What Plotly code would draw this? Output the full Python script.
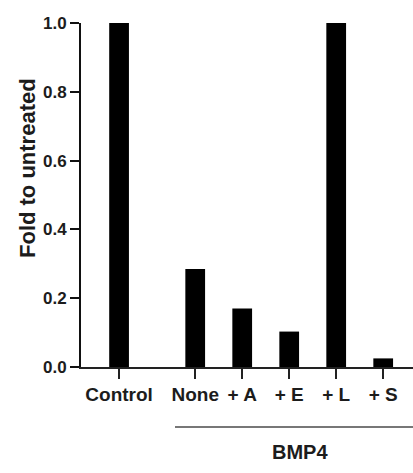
import plotly.graph_objects as go

# ---- data ----
categories = ["Control", "None", "+ A", "+ E", "+ L", "+ S"]
fold_values = [1.0, 0.285, 0.17, 0.103, 1.0, 0.025]
group_label = "BMP4"
y_title = "Fold to untreated"
y_ticks = [0.0, 0.2, 0.4, 0.6, 0.8, 1.0]

# positions: control alone, then the BMP4 group after a gap
gap = 0.62
xpos = [0.0] + [1.0 + gap + i for i in range(len(categories) - 1)]

FONT = "Liberation Sans, Arial, sans-serif"
TXT = "#1c1c1c"

fig = go.Figure(go.Bar(
    x=xpos, y=fold_values, width=0.42,
    marker=dict(color="black", line=dict(width=0)),
))

fig.update_layout(
    width=413, height=473,
    margin=dict(l=81, r=0, t=23, b=106),
    paper_bgcolor="white", plot_bgcolor="white",
    showlegend=False,
    font=dict(family=FONT, color=TXT),
    xaxis=dict(
        range=[-0.81, 6.254], showgrid=False, zeroline=False, automargin=False,
        showline=True, linecolor="#222", linewidth=2,
        ticks="outside", ticklen=10, tickwidth=2, tickcolor="#222",
        tickvals=xpos, ticktext=[f"<b>{c}</b>" for c in categories],
        tickfont=dict(size=19, family=FONT, color=TXT),
        ticklabelstandoff=-1,
    ),
    yaxis=dict(
        range=[0, 1.0], showgrid=False, zeroline=False, automargin=False,
        showline=True, linecolor="#111", linewidth=2,
        ticks="outside", ticklen=9, tickwidth=2, tickcolor="#111",
        tickvals=y_ticks, ticktext=[f"<b>{v:.1f}</b>" for v in y_ticks],
        tickfont=dict(size=17, family=FONT, color=TXT),
    ),
    shapes=[dict(
        type="line", xref="paper", yref="paper",
        x0=(175 - 81) / 332, x1=1.0, y0=-60 / 344, y1=-60 / 344,
        line=dict(color="#777", width=2),
    )],
    annotations=[
        dict(text=f"<b>{group_label}</b>", xref="paper", yref="paper",
             x=(300 - 81) / 332, y=-85 / 344, xanchor="center", yanchor="middle",
             showarrow=False, font=dict(size=20, family=FONT, color=TXT)),
        dict(text=f"<b>{y_title}</b>", xref="paper", yref="paper",
             x=(27 - 81) / 332, y=(367 - 168) / 344, xanchor="center", yanchor="middle",
             textangle=-90, showarrow=False, font=dict(size=22, family=FONT, color=TXT)),
    ],
)

fig.write_html(
    "out.html",
    config={"displayModeBar": False},
    post_script="document.body.style.margin='0';document.body.style.overflow='hidden';",
)
